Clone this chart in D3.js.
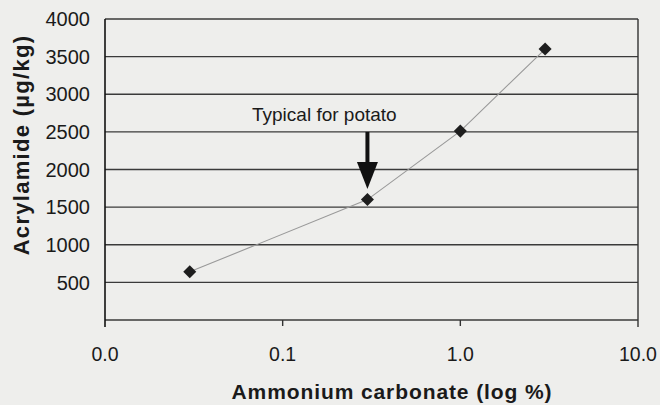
<!DOCTYPE html>
<meta charset="utf-8">
<script src="https://cdn.jsdelivr.net/npm/d3@7/dist/d3.min.js"></script>
<style>
body { margin: 0; background: #eeeeec; }
text { font-family: "Liberation Sans", Arial, sans-serif; fill: #1a1a1a; }
.grid line { stroke: #3a3a3a; stroke-width: 1.4px; }
</style>
<body>
<script>

// data
var carbonate = [0.03, 0.3, 1.0, 3.0];       // % ammonium carbonate
var acrylamide = [640, 1600, 2510, 3600];     // µg/kg
var xTicks = [0.01, 0.1, 1, 10];
var xTickLabels = ["0.0", "0.1", "1.0", "10.0"];
var yTicks = [500, 1000, 1500, 2000, 2500, 3000, 3500, 4000];

var width = 660, height = 405;
var margin = {left: 105, right: 22, top: 19, bottom: 85};

var svg = d3.select("body").append("svg")
    .attr("width", width)
    .attr("height", height);

var x = d3.scaleLog().domain([0.01, 10]).range([margin.left, width - margin.right]);
var y = d3.scaleLinear().domain([0, 4000]).range([height - margin.bottom, margin.top]);

// horizontal grid lines
svg.append("g").attr("class", "grid")
  .selectAll("line")
  .data([0].concat(yTicks))
  .enter().append("line")
    .attr("x1", x(0.01)).attr("x2", x(10))
    .attr("y1", function(d) { return y(d); })
    .attr("y2", function(d) { return y(d); });

// frame sides
svg.append("line")
    .attr("x1", x(0.01)).attr("x2", x(0.01))
    .attr("y1", y(4000)).attr("y2", y(0) + 7)
    .attr("stroke", "#111").attr("stroke-width", 1.6);
svg.append("line")
    .attr("x1", x(10)).attr("x2", x(10))
    .attr("y1", y(4000)).attr("y2", y(0) + 7)
    .attr("stroke", "#333").attr("stroke-width", 1.4);

// x ticks
svg.append("g")
  .selectAll("line")
  .data(xTicks.slice(1, 3))
  .enter().append("line")
    .attr("x1", function(d) { return x(d); })
    .attr("x2", function(d) { return x(d); })
    .attr("y1", y(0)).attr("y2", y(0) + 6)
    .attr("stroke", "#333").attr("stroke-width", 1.4);

svg.append("g")
  .selectAll("text")
  .data(xTicks)
  .enter().append("text")
    .attr("x", function(d) { return x(d); })
    .attr("y", 361)
    .attr("text-anchor", "middle")
    .style("font-size", "19.5px")
    .text(function(d, i) { return xTickLabels[i]; });

// y tick labels
svg.append("g")
  .selectAll("text")
  .data(yTicks)
  .enter().append("text")
    .attr("x", 90)
    .attr("y", function(d) { return y(d); })
    .attr("dy", "0.36em")
    .attr("text-anchor", "end")
    .style("font-size", "20px")
    .text(function(d) { return d; });

// axis titles
svg.append("text")
    .attr("x", 392).attr("y", 399)
    .attr("text-anchor", "middle")
    .style("font-size", "21px").style("font-weight", "bold")
    .style("letter-spacing", "0.9px")
    .text("Ammonium carbonate (log %)");

svg.append("text")
    .attr("transform", "translate(29,145) rotate(-90)")
    .attr("text-anchor", "middle")
    .style("font-size", "22px").style("font-weight", "bold")
    .style("letter-spacing", "1.3px")
    .text("Acrylamide (µg/kg)");

// data line
var pts = carbonate.map(function(c, i) { return [c, acrylamide[i]]; });
var line = d3.line()
    .x(function(d) { return x(d[0]); })
    .y(function(d) { return y(d[1]); });

svg.append("path")
    .datum(pts)
    .attr("d", line)
    .attr("fill", "none")
    .attr("stroke", "#999")
    .attr("stroke-width", 1.1);

// markers
svg.append("g")
  .selectAll("path")
  .data(pts)
  .enter().append("path")
    .attr("d", d3.symbol().type(d3.symbolSquare).size(85))
    .attr("transform", function(d) {
      return "translate(" + x(d[0]) + "," + y(d[1]) + ") rotate(45)";
    })
    .attr("fill", "#1e1e1e");

// annotation
var ax = x(0.3);
svg.append("text")
    .attr("x", 252).attr("y", 121)
    .style("font-size", "19px")
    .text("Typical for potato");

svg.append("line")
    .attr("x1", ax).attr("x2", ax)
    .attr("y1", y(2500)).attr("y2", 164)
    .attr("stroke", "#111").attr("stroke-width", 4);
svg.append("path")
    .attr("d", "M" + (ax - 10.5) + ",162 L" + (ax + 10.5) + ",162 L" + ax + ",189 Z")
    .attr("fill", "#111");

</script>
</body>
</html>
